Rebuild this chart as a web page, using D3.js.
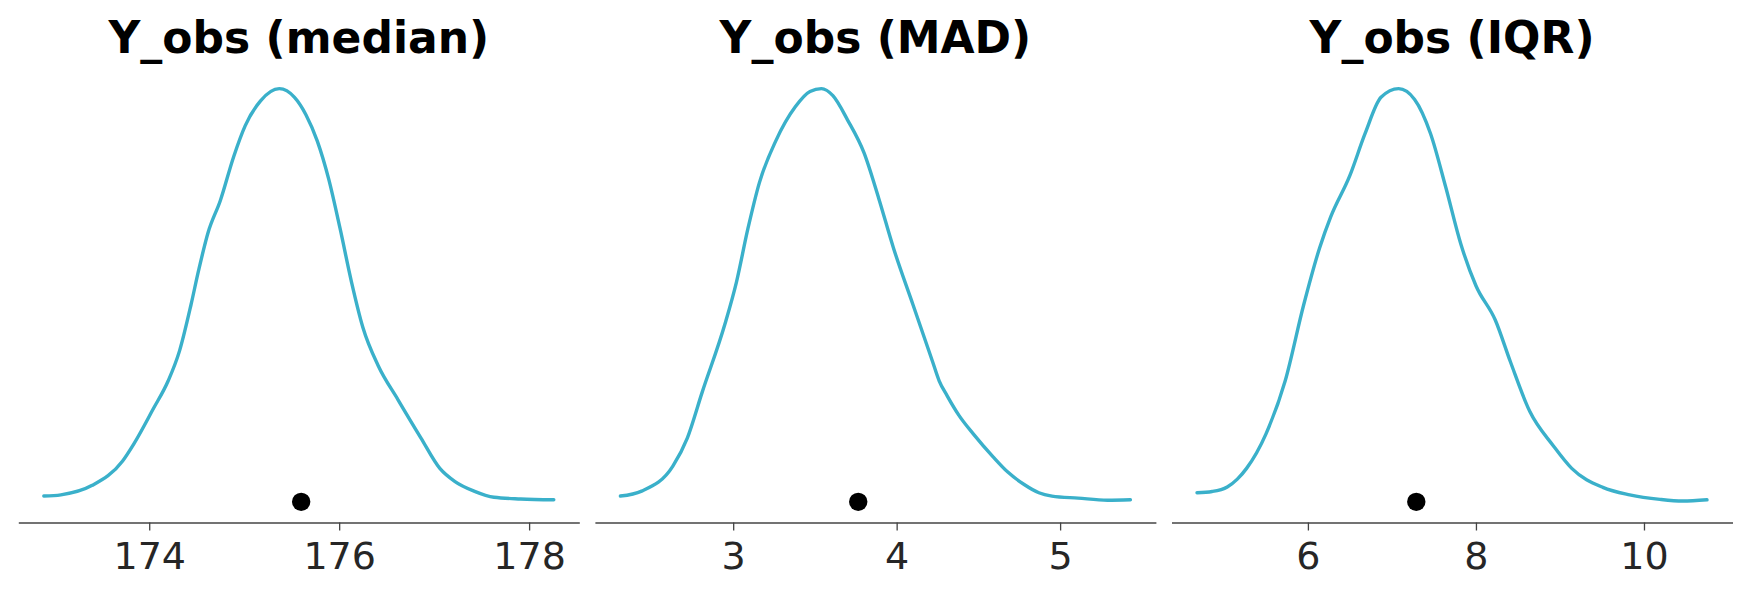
<!DOCTYPE html>
<html>
<head>
<meta charset="utf-8">
<script src="https://cdn.jsdelivr.net/npm/d3@7"></script>
<style>
  html, body { margin: 0; padding: 0; background: #fff; }
  svg { display: block; font-family: "DejaVu Sans", sans-serif; }
</style>
</head>
<body>
<svg id="chart" width="1750" height="598"></svg>
<script>
// panel titles
const titles = ['Y_obs (median)', 'Y_obs (MAD)', 'Y_obs (IQR)'];

// kde of the test statistic, relative density (peak = 1)
const medianX = [172.89,173.07,173.40,173.72,173.84,174.04,174.20,174.32,174.44,174.52,174.62,174.75,174.89,175.01,175.17,175.37,175.53,175.65,175.77,175.89,176.01,176.13,176.25,176.41,176.62,176.86,177.06,177.22,177.42,177.63,177.91,178.26];
const medianY = [0.014,0.017,0.040,0.099,0.141,0.224,0.293,0.366,0.477,0.560,0.652,0.730,0.836,0.910,0.970,1.000,0.979,0.937,0.873,0.781,0.661,0.532,0.422,0.330,0.247,0.155,0.081,0.049,0.026,0.011,0.007,0.005];

const madX = [2.31,2.44,2.63,2.72,2.81,2.95,3.02,3.09,3.16,3.26,3.38,3.47,3.54,3.61,3.70,3.80,3.89,3.98,4.10,4.22,4.26,4.31,4.38,4.47,4.59,4.68,4.78,4.87,4.95,5.11,5.29,5.43];
const madY = [0.014,0.026,0.086,0.155,0.265,0.431,0.532,0.661,0.772,0.873,0.956,0.993,1.000,0.983,0.924,0.845,0.735,0.615,0.477,0.339,0.293,0.256,0.210,0.164,0.109,0.072,0.042,0.022,0.014,0.009,0.004,0.005];

const iqrX = [4.68,4.86,5.04,5.16,5.27,5.50,5.73,5.95,6.14,6.27,6.50,6.68,6.87,7.08,7.27,7.46,7.64,7.82,8.00,8.23,8.41,8.64,8.92,9.14,9.51,9.83,10.19,10.46,10.75];
const iqrY = [0.022,0.025,0.036,0.055,0.081,0.164,0.293,0.477,0.615,0.689,0.790,0.891,0.979,1.000,0.974,0.891,0.762,0.624,0.523,0.440,0.339,0.219,0.136,0.081,0.035,0.017,0.006,0.002,0.005];

// observed statistic (black dot)
const observed = [175.6, 3.765, 7.29];

const tickValues = [[174,176,178],[3,4,5],[6,8,10]];

const panels = [
  { title: titles[0], xs: medianX, ys: medianY, obs: observed[0], ticks: tickValues[0] },
  { title: titles[1], xs: madX, ys: madY, obs: observed[1], ticks: tickValues[1] },
  { title: titles[2], xs: iqrX, ys: iqrY, obs: observed[2], ticks: tickValues[2] }
];

const svg = d3.select('#chart');
const left0 = 18.3, pw = 561, gap = 15.6;
const plotTop = 68, plotBottom = 522.5;

panels.forEach(function (p, i) {
  const x0 = left0 + i * (pw + gap);
  const g = svg.append('g').attr('transform', 'translate(' + x0 + ',0)');

  // matplotlib style 5% margins
  const ext = d3.extent(p.xs), span = ext[1] - ext[0];
  const x = d3.scaleLinear().domain([ext[0] - 0.05 * span, ext[1] + 0.05 * span]).range([0, pw]);
  const ymax = d3.max(p.ys);
  const y = d3.scaleLinear().domain([-0.05 * ymax, 1.05 * ymax]).range([plotBottom, plotTop]);

  const pts = p.xs.map(function (v, k) { return [v, p.ys[k]]; });
  const line = d3.line().x(function (d) { return x(d[0]); }).y(function (d) { return y(d[1]); })
    .curve(d3.curveMonotoneX);

  g.append('path').datum(pts).attr('d', line)
    .attr('fill', 'none').attr('stroke', '#3ab0ca').attr('stroke-width', 3.4)
    .attr('stroke-linejoin', 'round').attr('stroke-linecap', 'round');

  g.append('circle').attr('cx', x(p.obs)).attr('cy', y(0)).attr('r', 9.2).attr('fill', '#000');

  const ax = g.append('g').attr('transform', 'translate(0,' + plotBottom + ')')
    .call(d3.axisBottom(x).tickValues(p.ticks).tickFormat(d3.format('d'))
      .tickSizeInner(8).tickSizeOuter(0).tickPadding(12));
  ax.select('.domain').attr('stroke', '#444').attr('stroke-width', 1.3);
  ax.selectAll('.tick line').attr('stroke', '#444').attr('stroke-width', 1.3);
  ax.selectAll('.tick text').attr('fill', '#262626').attr('font-size', 38)
    .attr('font-family', '"DejaVu Sans", sans-serif');

  g.append('text').attr('x', pw / 2).attr('y', 52.7).attr('text-anchor', 'middle')
    .attr('font-size', 44).attr('font-weight', 'bold').attr('fill', '#000')
    .text(p.title);
});
</script>
</body>
</html>
